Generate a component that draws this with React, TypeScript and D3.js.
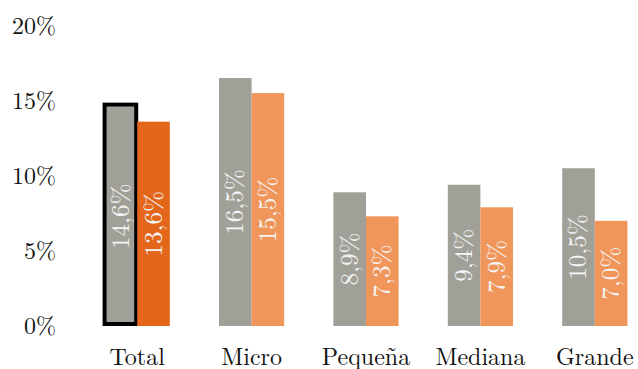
import React from "react";
import * as d3 from "d3";

const categories = ["Total", "Micro", "Pequeña", "Mediana", "Grande"];
const seriesA = [14.6, 16.5, 8.9, 9.4, 10.5];
const seriesB = [13.6, 15.5, 7.3, 7.9, 7.0];
const yTicks = [0, 5, 10, 15, 20];

const W = 638;
const H = 369;
const textStyle = { fontFamily: '"Latin Modern Roman", "Liberation Serif", serif' };

const GRAY = "#a0a098";
const ORANGE_DARK = "#e4661a";
const ORANGE_LIGHT = "#f0965a";

const fmt = (v: number) => v.toFixed(1).replace(".", ",") + "%";

export default function App() {
  const x = d3
    .scaleBand<string>()
    .domain(categories)
    .range([80, 652])
    .paddingInner(0.43)
    .paddingOuter(0.215);
  const inner = d3
    .scaleBand<string>()
    .domain(["a", "b"])
    .range([0, x.bandwidth()]);
  const y = d3.scaleLinear().domain([0, 20]).range([326, 25.5]);

  return (
    <svg
      width={W}
      height={H}
      style={{ position: "absolute", left: 0, top: 0, background: "#fff" }}
    >
      {yTicks.map((t) => (
        <text
          key={t}
          x={56}
          y={y(t) + 8}
          textAnchor="end"
          fontSize={24}
          fill="#111"
          style={textStyle}
        >
          {t}%
        </text>
      ))}
      {categories.map((c, i) => {
        const x0 = x(c)!;
        const bars = [
          { key: "a", v: seriesA[i], fill: GRAY },
          { key: "b", v: seriesB[i], fill: i === 0 ? ORANGE_DARK : ORANGE_LIGHT },
        ];
        return (
          <g key={c}>
            {bars.map((b) => {
              const bx = x0 + inner(b.key)!;
              const bw = inner.bandwidth();
              const by = y(b.v);
              const bh = y(0) - by;
              const cx = bx + bw / 2;
              const cy = by + bh / 2;
              return (
                <g key={b.key}>
                  <rect x={bx} y={by} width={bw} height={bh} fill={b.fill} />
                  {i === 0 && b.key === "a" && (
                    <rect
                      x={bx}
                      y={by - 2}
                      width={bw - 1}
                      height={bh}
                      fill="none"
                      stroke="#000"
                      strokeWidth={4}
                    />
                  )}
                  <text
                    transform={`translate(${cx + 8},${cy}) rotate(-90)`}
                    textAnchor="middle"
                    fontSize={25}
                    fill="#f4f4f4"
                    style={textStyle}
                  >
                    {fmt(b.v)}
                  </text>
                </g>
              );
            })}
            <text
              x={x0 + x.bandwidth() / 2}
              y={365}
              textAnchor="middle"
              fontSize={24}
              fill="#111"
              style={textStyle}
            >
              {c}
            </text>
          </g>
        );
      })}
    </svg>
  );
}
